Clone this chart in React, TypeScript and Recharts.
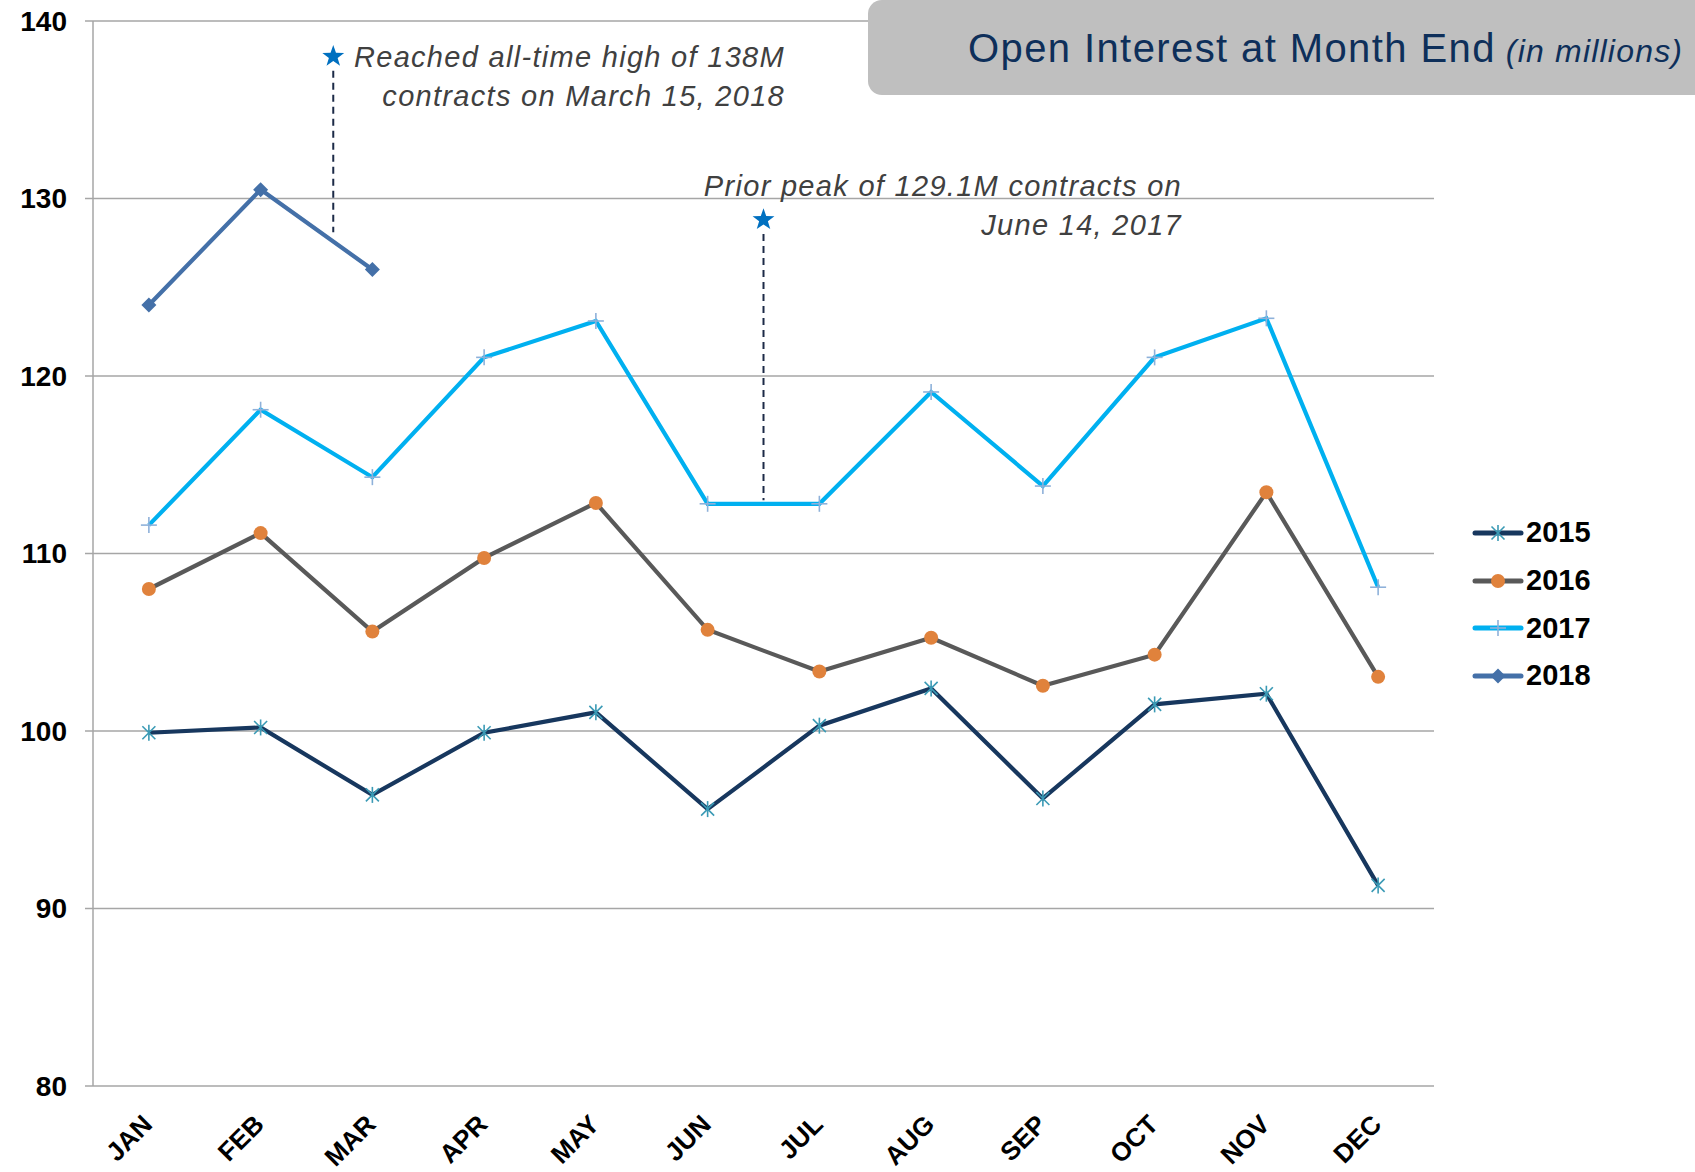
import React from 'react';
import { LineChart, Line, XAxis, YAxis, CartesianGrid, ReferenceLine, ReferenceDot } from 'recharts';

const months = ['JAN', 'FEB', 'MAR', 'APR', 'MAY', 'JUN', 'JUL', 'AUG', 'SEP', 'OCT', 'NOV', 'DEC'];
const oi2015 = [99.9, 100.2, 96.4, 99.9, 101.05, 95.6, 100.3, 102.4, 96.2, 101.5, 102.1, 91.3];
const oi2016 = [108.0, 111.15, 105.6, 109.75, 112.85, 105.7, 103.35, 105.25, 102.55, 104.3, 113.45, 103.05];
const oi2017 = [111.6, 118.1, 114.3, 121.05, 123.1, 112.8, 112.8, 119.1, 113.8, 121.05, 123.25, 108.1];
const oi2018 = [124.0, 130.5, 126.0, null, null, null, null, null, null, null, null, null];
const yTicks = [80, 90, 100, 110, 120, 130, 140];
const boundaryTicks = [0, 1, 2, 3, 4, 5, 6, 7, 8, 9, 10, 11, 12];

const highStar = { x: 2.15, y: 138.0, lineTop: 137.2, lineBottom: 128.1 };
const priorStar = { x: 6.0, y: 128.8, lineTop: 128.0, lineBottom: 113.0 };

const data = months.map((m, i) => ({
  x: i + 0.5,
  month: m,
  y2015: oi2015[i],
  y2016: oi2016[i],
  y2017: oi2017[i],
  y2018: oi2018[i],
}));

const series = [
  { key: 'y2015', name: '2015', stroke: '#17375E', marker: 'asterisk', markerColor: '#3A9AB5' },
  { key: 'y2016', name: '2016', stroke: '#595959', marker: 'circle', markerColor: '#E0823C' },
  { key: 'y2017', name: '2017', stroke: '#00B0F0', marker: 'plus', markerColor: '#8EB1DA' },
  { key: 'y2018', name: '2018', stroke: '#4470A8', marker: 'diamond', markerColor: '#4470A8' },
];

const FONT = '"Liberation Sans", Arial, sans-serif';
const GRID = '#A6A6A6';

function Marker({ kind, cx, cy, color }: any) {
  if (cx == null || cy == null) return <g />;
  if (kind === 'asterisk') {
    return (
      <g stroke={color} strokeWidth={1.6}>
        <line x1={cx} y1={cy - 8} x2={cx} y2={cy + 8} />
        <line x1={cx - 6.5} y1={cy - 6.5} x2={cx + 6.5} y2={cy + 6.5} />
        <line x1={cx - 6.5} y1={cy + 6.5} x2={cx + 6.5} y2={cy - 6.5} />
      </g>
    );
  }
  if (kind === 'circle') return <circle cx={cx} cy={cy} r={7} fill={color} />;
  if (kind === 'plus') {
    return (
      <g stroke={color} strokeWidth={1.6}>
        <line x1={cx - 8} y1={cy} x2={cx + 8} y2={cy} />
        <line x1={cx} y1={cy - 8} x2={cx} y2={cy + 8} />
      </g>
    );
  }
  return <polygon points={`${cx},${cy - 7.5} ${cx + 7.5},${cy} ${cx},${cy + 7.5} ${cx - 7.5},${cy}`} fill={color} />;
}

function Star({ cx, cy }: any) {
  const pts: string[] = [];
  for (let i = 0; i < 10; i++) {
    const r = i % 2 === 0 ? 11.5 : 4.6;
    const a = -Math.PI / 2 + (i * Math.PI) / 5;
    pts.push(`${cx + r * Math.cos(a)},${cy + r * Math.sin(a)}`);
  }
  return <polygon points={pts.join(' ')} fill="#0070C0" />;
}

function MonthTick({ x, y, payload }: any) {
  const ax = x + 5;
  const ay = y + 32;
  return (
    <text x={ax} y={ay} transform={`rotate(-45, ${ax}, ${ay})`} textAnchor="end" fontFamily={FONT} fontWeight="bold" fontSize={26} fill="#000">
      {payload.value}
    </text>
  );
}

function LegendBox() {
  return (
    <div style={{ position: 'absolute', left: 1470, top: 509, fontFamily: FONT }}>
      {series.map((s) => (
        <div key={s.key} style={{ display: 'flex', alignItems: 'center', height: 47.7 }}>
          <svg width={56} height={24}>
            <line x1={5} y1={12} x2={51} y2={12} stroke={s.stroke} strokeWidth={5} strokeLinecap="round" />
            <Marker kind={s.marker} cx={28} cy={12} color={s.markerColor} />
          </svg>
          <span style={{ fontWeight: 'bold', fontSize: 29, color: '#000' }}>{s.name}</span>
        </div>
      ))}
    </div>
  );
}

export default function App() {
  return (
    <div style={{ position: 'absolute', left: 0, top: 0, width: 1695, height: 1172, background: '#fff', fontFamily: FONT, overflow: 'hidden' }}>
      <LineChart width={1695} height={1172} data={data} margin={{ top: 21, right: 261, bottom: 0, left: 13 }}>
        <CartesianGrid xAxisId="a" vertical={false} stroke={GRID} strokeWidth={1.5} />
        <XAxis
          xAxisId="a"
          dataKey="x"
          type="number"
          domain={[0, 12]}
          ticks={boundaryTicks}
          interval={0}
          tick={() => <g />}
          tickLine={{ stroke: GRID, strokeWidth: 1.5 }}
          tickSize={10}
          axisLine={{ stroke: GRID, strokeWidth: 1.5 }}
          height={0}
        />
        <XAxis
          xAxisId="b"
          type="category"
          scale="band"
          dataKey="month"
          interval={0}
          tick={<MonthTick />}
          tickLine={false}
          axisLine={false}
          height={86}
        />
        <YAxis
          type="number"
          domain={[80, 140]}
          ticks={yTicks}
          interval={0}
          width={80}
          tickSize={8}
          tickMargin={18}
          tickLine={{ stroke: GRID, strokeWidth: 1.5 }}
          axisLine={{ stroke: GRID, strokeWidth: 1.5 }}
          tick={{ fontFamily: FONT, fontWeight: 'bold', fontSize: 28, fill: '#000' }}
        />
        {series.map((s) => (
          <Line
            key={s.key}
            xAxisId="a"
            type="linear"
            dataKey={s.key}
            name={s.name}
            stroke={s.stroke}
            strokeWidth={4.2}
            isAnimationActive={false}
            connectNulls={false}
            dot={(p: any) => <Marker key={`${s.key}-${p.index}`} kind={s.marker} cx={p.cx} cy={p.cy} color={s.markerColor} />}
            activeDot={false}
          />
        ))}
        <ReferenceLine
          xAxisId="a"
          segment={[{ x: highStar.x, y: highStar.lineTop }, { x: highStar.x, y: highStar.lineBottom }]}
          stroke="#1C2A47"
          strokeWidth={2}
          strokeDasharray="7 5"
        />
        <ReferenceLine
          xAxisId="a"
          segment={[{ x: priorStar.x, y: priorStar.lineTop }, { x: priorStar.x, y: priorStar.lineBottom }]}
          stroke="#1C2A47"
          strokeWidth={2}
          strokeDasharray="7 5"
        />
        <ReferenceDot xAxisId="a" x={highStar.x} y={highStar.y} r={11} shape={(p: any) => <Star cx={p.cx} cy={p.cy} />} />
        <ReferenceDot xAxisId="a" x={priorStar.x} y={priorStar.y} r={11} shape={(p: any) => <Star cx={p.cx} cy={p.cy} />} />
      </LineChart>

      <LegendBox />

      <div style={{ position: 'absolute', left: 0, width: 785, top: 38, textAlign: 'right', fontStyle: 'italic', fontSize: 29, letterSpacing: 1.3, lineHeight: '39px', color: '#404040', whiteSpace: 'nowrap' }}>
        Reached all-time high of 138M
        <br />
        contracts on March 15, 2018
      </div>
      <div style={{ position: 'absolute', left: 0, width: 1182, top: 167, textAlign: 'right', fontStyle: 'italic', fontSize: 29, letterSpacing: 1.3, lineHeight: '39px', color: '#404040', whiteSpace: 'nowrap' }}>
        Prior peak of 129.1M contracts on
        <br />
        June 14, 2017
      </div>

      <div style={{ position: 'absolute', left: 868, top: 0, width: 840, height: 95, background: '#BFBFBF', borderRadius: 14 }} />
      <div style={{ position: 'absolute', left: 968, top: 26, whiteSpace: 'nowrap', color: '#0E2F5A' }}>
        <span style={{ fontSize: 40, letterSpacing: 1.4 }}>Open Interest at Month End</span>
        <span style={{ fontSize: 32, fontStyle: 'italic', letterSpacing: 1.2, marginLeft: 10 }}>(in millions)</span>
      </div>
    </div>
  );
}
